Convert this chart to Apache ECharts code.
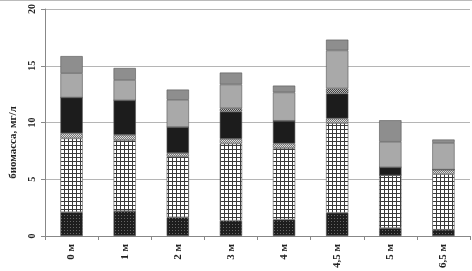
<!DOCTYPE html>
<html><head><meta charset="utf-8">
<script src="https://cdn.jsdelivr.net/npm/echarts@6/dist/echarts.min.js"></script>
<style>html,body{margin:0;padding:0;background:#fff}#c{width:472px;height:271px;border-top:1px solid #bbb;box-sizing:border-box}</style>
</head><body><div id="c"></div>
<script>
const categories = ['0 м','1 м','2 м','3 м','4 м','4,5 м','5 м','6,5 м'];
const yTicks = [0,5,10,15,20];
const s1 = [2.1, 2.2, 1.65, 1.35, 1.45, 2.05, 0.7, 0.55];
const s2 = [6.5, 6.25, 5.35, 6.8, 6.3, 7.9, 4.65, 4.9];
const s3 = [0.45, 0.45, 0.3, 0.4, 0.4, 0.4, 0, 0.4];
const s4 = [3.15, 3.05, 2.3, 2.4, 2.0, 2.2, 0.7, 0];
const s5 = [0, 0, 0, 0.3, 0, 0.45, 0, 0];
const s6 = [2.15, 1.8, 2.4, 2.1, 2.5, 3.35, 2.25, 2.35];
const s7 = [1.5, 1.05, 0.9, 1.05, 0.6, 0.95, 1.9, 0.3];
const yAxisName = 'биомасса, мг/л';

function pat(w, h, draw){
  const c = document.createElement('canvas'); c.width = w; c.height = h;
  const g = c.getContext('2d'); draw(g, w, h);
  return {image: c, repeat: 'repeat'};
}
const pDots = pat(3,3,(g)=>{g.fillStyle='#1e1e1e';g.fillRect(0,0,3,3);g.fillStyle='#666';g.fillRect(1,1,1,1);});
const pGrid = pat(4,4,(g)=>{g.fillStyle='#fff';g.fillRect(0,0,4,4);g.fillStyle='#3a3a3a';g.fillRect(0,0,4,1);g.fillRect(0,0,1,4);});
const pCheck = pat(2,2,(g)=>{g.fillStyle='#ddd';g.fillRect(0,0,2,2);g.fillStyle='#777';g.fillRect(0,0,1,1);g.fillRect(1,1,1,1);});
const pCheck2 = pat(2,2,(g)=>{g.fillStyle='#bbb';g.fillRect(0,0,2,2);g.fillStyle='#444';g.fillRect(0,0,1,1);g.fillRect(1,1,1,1);});

const styles = [pDots, pGrid, pCheck, '#1c1c1c', pCheck2, '#a9a9a9', '#8e8e8e'];
const data = [s1,s2,s3,s4,s5,s6,s7];
const series = data.map((d,i)=>({
  type:'bar', stack:'a', data:d, barWidth:'42%',
  itemStyle:{color:styles[i], borderColor:'#555', borderWidth:0.6},
  emphasis:{disabled:true}
}));

const chart = echarts.init(document.getElementById('c'), null, {renderer:'canvas'});
chart.setOption({
  animation:false,
  backgroundColor:'#fff',
  grid:{left:44, right:2, top:8, bottom:35, containLabel:false},
  xAxis:{
    type:'category', data:categories,
    axisLine:{lineStyle:{color:'#888', width:1}},
    axisTick:{show:true, length:4, lineStyle:{color:'#888'}},
    axisLabel:{rotate:90, fontFamily:'Liberation Serif', fontWeight:'bold', fontSize:11, color:'#222', margin:8}
  },
  yAxis:{
    type:'value', min:yTicks[0], max:yTicks[yTicks.length-1], interval:5,
    name:yAxisName, nameLocation:'middle', nameGap:26, nameRotate:90,
    nameTextStyle:{fontFamily:'Liberation Serif', fontWeight:'bold', fontSize:11, color:'#222', padding:[0,40,0,0]},
    axisLine:{show:true, lineStyle:{color:'#888'}},
    axisTick:{show:true, length:4, lineStyle:{color:'#888'}},
    splitLine:{lineStyle:{color:'#b5b5b5', width:1}},
    axisLabel:{rotate:90, fontFamily:'Liberation Serif', fontWeight:'bold', fontSize:10, color:'#222', margin:8}
  },
  series:series
});
</script></body></html>
